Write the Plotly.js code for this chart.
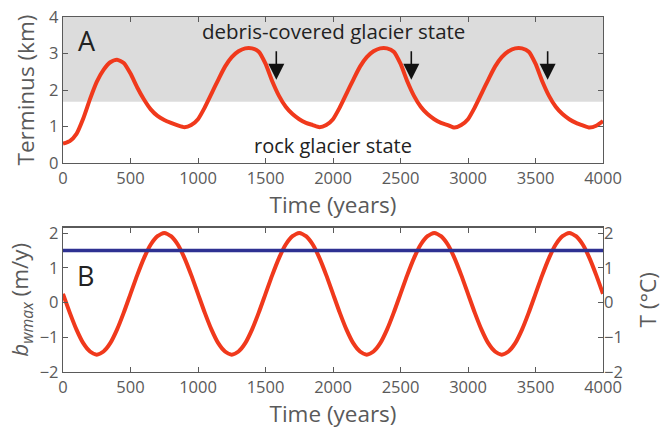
<!DOCTYPE html>
<html>
<head>
<meta charset="utf-8">
<script src="https://cdn.plot.ly/plotly-3.0.1.min.js"></script>
<style>html,body{margin:0;padding:0;background:#fff;}#chart{width:663px;height:431px;}</style>
</head>
<body>
<div id="chart"></div>
<script>
// ---- Panel A: glacier terminus position (km) vs time (years)
var timeA = [0,50,100,150,200,250,300,350,400,450,500,550,600,650,700,750,800,850,900,950,
  1000,1050,1100,1150,1200,1250,1300,1350,1400,1450,1500,1550,1600,1650,1700,1750,1800,1850,1900,1950,
  2000,2050,2100,2150,2200,2250,2300,2350,2400,2450,2500,2550,2600,2650,2700,2750,2800,2850,2900,2950,
  3000,3050,3100,3150,3200,3250,3300,3350,3400,3450,3500,3550,3600,3650,3700,3750,3800,3850,3900,3950,4000];
var terminus = [0.53,0.60,0.80,1.22,1.75,2.22,2.55,2.76,2.83,2.74,2.45,2.07,1.74,1.47,1.29,1.18,1.10,1.03,0.98,1.04,
  1.20,1.52,1.90,2.28,2.64,2.90,3.06,3.14,3.14,3.05,2.72,2.24,1.84,1.54,1.34,1.20,1.10,1.04,0.98,1.04,
  1.20,1.52,1.90,2.28,2.64,2.90,3.06,3.14,3.14,3.05,2.72,2.24,1.84,1.54,1.34,1.20,1.10,1.04,0.97,1.04,
  1.20,1.52,1.90,2.28,2.64,2.90,3.06,3.14,3.14,3.05,2.72,2.24,1.84,1.54,1.34,1.20,1.10,1.03,0.97,1.02,1.15];
var debrisThreshold = 1.68;   // lower edge of the grey "debris-covered" band (km)
var arrowTimes = [1580, 2580, 3590];
var arrowTop = 3.10, arrowTip = 2.28;

// ---- Panel B: b_wmax (m/y) and T (°C) vs time
var timeB = [0,50,100,150,200,250,300,350,400,450,500,550,600,650,700,750,800,850,900,950,
  1000,1050,1100,1150,1200,1250,1300,1350,1400,1450,1500,1550,1600,1650,1700,1750,1800,1850,1900,1950,
  2000,2050,2100,2150,2200,2250,2300,2350,2400,2450,2500,2550,2600,2650,2700,2750,2800,2850,2900,2950,
  3000,3050,3100,3150,3200,3250,3300,3350,3400,3450,3500,3550,3600,3650,3700,3750,3800,3850,3900,3950,4000];
var bwmax = [0.25,-0.29,-0.78,-1.17,-1.41,-1.50,-1.41,-1.17,-0.78,-0.29,0.25,0.79,1.28,1.67,1.91,2.00,1.91,1.67,1.28,0.79,
  0.25,-0.29,-0.78,-1.17,-1.41,-1.50,-1.41,-1.17,-0.78,-0.29,0.25,0.79,1.28,1.67,1.91,2.00,1.91,1.67,1.28,0.79,
  0.25,-0.29,-0.78,-1.17,-1.41,-1.50,-1.41,-1.17,-0.78,-0.29,0.25,0.79,1.28,1.67,1.91,2.00,1.91,1.67,1.28,0.79,
  0.25,-0.29,-0.78,-1.17,-1.41,-1.50,-1.41,-1.17,-0.78,-0.29,0.25,0.79,1.28,1.67,1.91,2.00,1.91,1.67,1.28,0.79,0.25];
var tempTime = [0, 4000];
var tempValue = [1.5, 1.5];

var xTicks = [0,500,1000,1500,2000,2500,3000,3500,4000];

var red = '#f0391c', navy = '#2e3192', axisCol = '#5a5a5a', font = 'Open Sans';
var tickSize = 16.5, titleSize = 22.5;

var traces = [
  {x: timeA, y: terminus, xaxis: 'x', yaxis: 'y', mode: 'lines', line: {color: red, width: 4, shape: 'spline', smoothing: 0.6}, hoverinfo: 'skip'},
  {x: tempTime, y: tempValue, xaxis: 'x2', yaxis: 'y3', mode: 'lines', line: {color: navy, width: 3.5}, hoverinfo: 'skip'},
  {x: timeB, y: bwmax, xaxis: 'x2', yaxis: 'y2', mode: 'lines', line: {color: red, width: 4, shape: 'spline', smoothing: 0.6}, hoverinfo: 'skip'}
];

function xax(anchor, standoff) {
  return {
    anchor: anchor, domain: [0, 1], range: [0, 4000], tickvals: xTicks,
    ticks: 'inside', ticklen: 5, tickcolor: axisCol, showline: true, linecolor: axisCol, linewidth: 1.2,
    mirror: 'ticks', showgrid: false, zeroline: false,
    tickfont: {family: font, size: tickSize, color: axisCol},
    title: {text: 'Time (years)', font: {family: font, size: titleSize, color: axisCol}, standoff: standoff},
    automargin: false
  };
}

var annotations = arrowTimes.map(function (t) {
  return {x: t, y: arrowTip, ax: t, ay: arrowTop, xref: 'x', yref: 'y', axref: 'x', ayref: 'y',
    text: '', showarrow: true, arrowhead: 2, arrowsize: 2.0, arrowwidth: 1.6, arrowcolor: '#111'};
});
annotations.push(
  {x: 2000, y: 3.62, xref: 'x', yref: 'y', text: 'debris-covered glacier state', showarrow: false,
   font: {family: font, size: 20.5, color: '#222'}},
  {x: 2000, y: 0.48, xref: 'x', yref: 'y', text: 'rock glacier state', showarrow: false,
   font: {family: font, size: 20, color: '#222'}},
  {x: 175, y: 3.35, xref: 'x', yref: 'y', text: 'A', showarrow: false,
   font: {family: font, size: 27, color: '#222'}},
  {x: 165, y: 0.78, xref: 'x2', yref: 'y2', text: 'B', showarrow: false,
   font: {family: font, size: 27, color: '#222'}}
);

var layout = {
  width: 663, height: 431,
  margin: {l: 63, r: 60, t: 17, b: 59},
  paper_bgcolor: '#fff', plot_bgcolor: 'rgba(0,0,0,0)',
  showlegend: false,
  xaxis: xax('y', 4),
  xaxis2: xax('y2', 3),
  yaxis: {
    anchor: 'x', domain: [0.5887, 1], range: [0, 4], tickvals: [0,1,2,3,4],
    ticks: 'inside', ticklen: 5, tickcolor: axisCol, showline: true, linecolor: axisCol, linewidth: 1.2,
    mirror: 'ticks', showgrid: false, zeroline: false,
    tickfont: {family: font, size: tickSize, color: axisCol},
    title: {text: 'Terminus (km)', font: {family: font, size: titleSize, color: axisCol}, standoff: 8},
    automargin: false
  },
  yaxis2: {
    anchor: 'x2', domain: [0, 0.407], range: [-2, 2.16], tickvals: [-2,-1,0,1,2],
    ticks: 'inside', ticklen: 5, tickcolor: axisCol, showline: true, linecolor: axisCol, linewidth: 1.2,
    mirror: true, showgrid: false, zeroline: false,
    tickfont: {family: font, size: tickSize, color: axisCol},
    title: {text: '<i>b</i><sub><i>wmax</i></sub> (m/y)', font: {family: font, size: titleSize, color: axisCol}, standoff: 4},
    automargin: false
  },
  yaxis3: {
    anchor: 'x2', overlaying: 'y2', side: 'right', range: [-2, 2.16], tickvals: [-2,-1,0,1,2],
    ticks: 'inside', ticklen: 5, tickcolor: axisCol, showline: false, showgrid: false, zeroline: false,
    tickfont: {family: font, size: tickSize, color: axisCol},
    title: {text: 'T (°C)', font: {family: font, size: titleSize, color: axisCol}, standoff: 19},
    automargin: false
  },
  shapes: [
    {type: 'rect', xref: 'x', yref: 'y', x0: 0, x1: 4000, y0: debrisThreshold, y1: 4,
     fillcolor: '#dcdcdc', line: {width: 0}, layer: 'below'}
  ],
  annotations: annotations
};

Plotly.newPlot('chart', traces, layout, {displayModeBar: false, staticPlot: true});
</script>
</body>
</html>
